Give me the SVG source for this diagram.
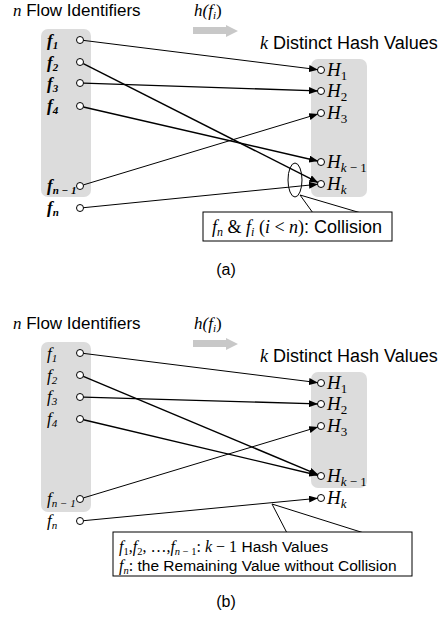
<svg xmlns="http://www.w3.org/2000/svg" width="445" height="617" viewBox="0 0 445 617">
<style>
.sans{font-family:"Liberation Sans",Arial,sans-serif;fill:#000}
.math{font-family:"Liberation Serif","Times New Roman","DejaVu Serif",serif;font-style:italic;fill:#000}
.rm{font-style:normal}
.box{fill:#dcdcdc}
.pt{fill:#fff;stroke:#000;stroke-width:1}
.ln{stroke:#000;stroke-width:1;fill:none}
.thk{stroke-width:1.4}
.garrow{fill:#c8c8c8}
.call{fill:#fff;stroke:#000;stroke-width:1}
.cl{stroke:#000;stroke-width:1;fill:none}
.fa{font-weight:bold}
</style>
<defs>
<marker id="ah" markerWidth="9" markerHeight="7" refX="8.5" refY="3.5" orient="auto" markerUnits="userSpaceOnUse">
<path d="M0,0 L9,3.5 L0,7 z" fill="#000"/>
</marker>
</defs>

<!-- Panel (a) -->
<g id="a-titles">
<text x="13" y="16" class="sans" font-size="17"><tspan class="math">n</tspan> Flow Identifiers</text>
<text x="194" y="16" class="math" font-size="17">h(f<tspan font-size="11" dy="3">i</tspan><tspan dy="-3" class="rm">)</tspan></text>
<polygon class="garrow" points="193,27 226,27 226,25 238,31 226,37 226,34 193,34"/>
<text x="260" y="49" class="sans" font-size="18"><tspan class="math">k</tspan> Distinct Hash Values</text>
</g>
<g id="a-flows">
<rect class="box" x="41" y="29" width="50" height="168" rx="7"/>
<text x="47" y="46" class="math fa" font-size="17">f<tspan font-size="11" dy="3">1</tspan></text>
<text x="47" y="68" class="math fa" font-size="17">f<tspan font-size="11" dy="3">2</tspan></text>
<text x="47" y="89" class="math fa" font-size="17">f<tspan font-size="11" dy="3">3</tspan></text>
<text x="47" y="111" class="math fa" font-size="17">f<tspan font-size="11" dy="3">4</tspan></text>
<text x="47" y="191" class="math fa" font-size="17">f<tspan font-size="11" dy="3">n − 1</tspan></text>
<text x="47" y="213" class="math fa" font-size="17">f<tspan font-size="11" dy="3">n</tspan></text>
<circle class="pt" cx="80" cy="40" r="3.5"/>
<circle class="pt" cx="80" cy="62" r="3.5"/>
<circle class="pt" cx="80" cy="83" r="3.5"/>
<circle class="pt" cx="80" cy="106" r="3.5"/>
<circle class="pt" cx="80" cy="186" r="3.5"/>
<circle class="pt" cx="80" cy="208" r="3.5"/>
</g>
<g id="a-hashes">
<rect class="box" x="311" y="59" width="56" height="138" rx="7"/>
<circle class="pt" cx="321" cy="70" r="3.5"/>
<circle class="pt" cx="321" cy="91" r="3.5"/>
<circle class="pt" cx="321" cy="113" r="3.5"/>
<circle class="pt" cx="321" cy="162" r="3.5"/>
<circle class="pt" cx="321" cy="184" r="3.5"/>
<text x="327" y="76" class="math" font-size="19">H<tspan class="rm" font-size="13" dy="4">1</tspan></text>
<text x="327" y="97" class="math" font-size="19">H<tspan class="rm" font-size="13" dy="4">2</tspan></text>
<text x="327" y="119" class="math" font-size="19">H<tspan class="rm" font-size="13" dy="4">3</tspan></text>
<text x="327" y="168" class="math" font-size="19">H<tspan font-size="13" dy="4">k<tspan class="rm"> − 1</tspan></tspan></text>
<text x="327" y="190" class="math" font-size="19">H<tspan font-size="13" dy="4">k</tspan></text>
</g>
<g id="a-connectors">
<line class="ln" x1="83.5" y1="40.4" x2="317.5" y2="69.6" marker-end="url(#ah)"/>
<line class="ln thk" x1="83.3" y1="63.6" x2="317.8" y2="182.4" marker-end="url(#ah)"/>
<line class="ln thk" x1="83.5" y1="83.1" x2="317.5" y2="90.9" marker-end="url(#ah)"/>
<line class="ln thk" x1="83.4" y1="107" x2="317.6" y2="161" marker-end="url(#ah)"/>
<line class="ln" x1="83.4" y1="184.9" x2="317.6" y2="114.1" marker-end="url(#ah)"/>
<line class="ln" x1="83.5" y1="207.7" x2="317.5" y2="184.3" marker-end="url(#ah)"/>
</g>
<g id="a-collision">
<ellipse class="cl" cx="295" cy="180" rx="7" ry="17"/>
<polyline class="cl" points="313,213 300,195 361,213"/>
<rect class="call" x="203" y="212" width="189" height="29"/>
<text x="212" y="233" class="math" font-size="18">f<tspan font-size="12" dy="3">n</tspan><tspan class="rm" dy="-3"> &amp; </tspan>f<tspan font-size="12" dy="3">i</tspan><tspan dy="-3"><tspan class="rm"> (</tspan>i<tspan class="rm"> &lt; </tspan>n<tspan class="rm">)</tspan></tspan><tspan class="sans rm">: Collision</tspan></text>
</g>
<text x="226" y="275" class="sans" font-size="16" text-anchor="middle">(a)</text>

<!-- Panel (b) -->
<g id="b-titles">
<text x="13" y="329" class="sans" font-size="17"><tspan class="math">n</tspan> Flow Identifiers</text>
<text x="194" y="329" class="math" font-size="17">h(f<tspan font-size="11" dy="3">i</tspan><tspan dy="-3" class="rm">)</tspan></text>
<polygon class="garrow" points="193,340 226,340 226,338 238,344 226,350 226,347 193,347"/>
<text x="260" y="362" class="sans" font-size="18"><tspan class="math">k</tspan> Distinct Hash Values</text>
</g>
<g id="b-flows">
<rect class="box" x="41" y="342" width="50" height="170" rx="7"/>
<text x="47" y="359" class="math" font-size="17">f<tspan font-size="11" dy="3">1</tspan></text>
<text x="47" y="381" class="math" font-size="17">f<tspan font-size="11" dy="3">2</tspan></text>
<text x="47" y="402" class="math" font-size="17">f<tspan font-size="11" dy="3">3</tspan></text>
<text x="47" y="424" class="math" font-size="17">f<tspan font-size="11" dy="3">4</tspan></text>
<text x="47" y="504" class="math" font-size="17">f<tspan font-size="11" dy="3">n − 1</tspan></text>
<text x="47" y="526" class="math" font-size="17">f<tspan font-size="11" dy="3">n</tspan></text>
<circle class="pt" cx="80" cy="353" r="3.5"/>
<circle class="pt" cx="80" cy="375" r="3.5"/>
<circle class="pt" cx="80" cy="397" r="3.5"/>
<circle class="pt" cx="80" cy="419" r="3.5"/>
<circle class="pt" cx="80" cy="499" r="3.5"/>
<circle class="pt" cx="80" cy="521" r="3.5"/>
</g>
<g id="b-hashes">
<rect class="box" x="311" y="372" width="56" height="116" rx="7"/>
<circle class="pt" cx="321" cy="383" r="3.5"/>
<circle class="pt" cx="321" cy="404" r="3.5"/>
<circle class="pt" cx="321" cy="426" r="3.5"/>
<circle class="pt" cx="321" cy="476" r="3.5"/>
<circle class="pt" cx="321" cy="498" r="3.5"/>
<text x="327" y="389" class="math" font-size="19">H<tspan class="rm" font-size="13" dy="4">1</tspan></text>
<text x="327" y="410" class="math" font-size="19">H<tspan class="rm" font-size="13" dy="4">2</tspan></text>
<text x="327" y="432" class="math" font-size="19">H<tspan class="rm" font-size="13" dy="4">3</tspan></text>
<text x="327" y="482" class="math" font-size="19">H<tspan font-size="13" dy="4">k<tspan class="rm"> − 1</tspan></tspan></text>
<text x="327" y="504" class="math" font-size="19">H<tspan font-size="13" dy="4">k</tspan></text>
</g>
<g id="b-connectors">
<line class="ln" x1="83.5" y1="353.4" x2="317.5" y2="382.6" marker-end="url(#ah)"/>
<line class="ln thk" x1="83.3" y1="376.4" x2="317.8" y2="474.6" marker-end="url(#ah)"/>
<line class="ln thk" x1="83.5" y1="397.1" x2="317.5" y2="403.9" marker-end="url(#ah)"/>
<line class="ln thk" x1="83.4" y1="419.8" x2="317.6" y2="475.2" marker-end="url(#ah)"/>
<line class="ln" x1="83.4" y1="497.9" x2="317.6" y2="427.1" marker-end="url(#ah)"/>
<line class="ln" x1="83.5" y1="520.7" x2="317.5" y2="498.3" marker-end="url(#ah)"/>
</g>
<g id="b-callout">
<polyline class="cl" points="287,533 272,504 364,533"/>
<rect class="call" x="113" y="532" width="299" height="44"/>
<text x="119" y="552" class="math" font-size="16">f<tspan font-size="10.5" dy="3" class="rm">1</tspan><tspan dy="-3" class="rm">,</tspan>f<tspan font-size="10.5" dy="3" class="rm">2</tspan><tspan dy="-3" class="rm">, …,</tspan>f<tspan font-size="10.5" dy="3">n<tspan class="rm"> − 1</tspan></tspan><tspan dy="-3" class="rm">: </tspan>k<tspan class="rm"> − 1</tspan><tspan class="sans rm" font-size="15.5"> Hash Values</tspan></text>
<text x="119" y="571" class="math" font-size="16">f<tspan font-size="10.5" dy="3">n</tspan><tspan dy="-3" class="rm">:</tspan><tspan class="sans rm" font-size="15.5"> the Remaining Value without Collision</tspan></text>
</g>
<text x="226" y="607" class="sans" font-size="16" text-anchor="middle">(b)</text>
</svg>
